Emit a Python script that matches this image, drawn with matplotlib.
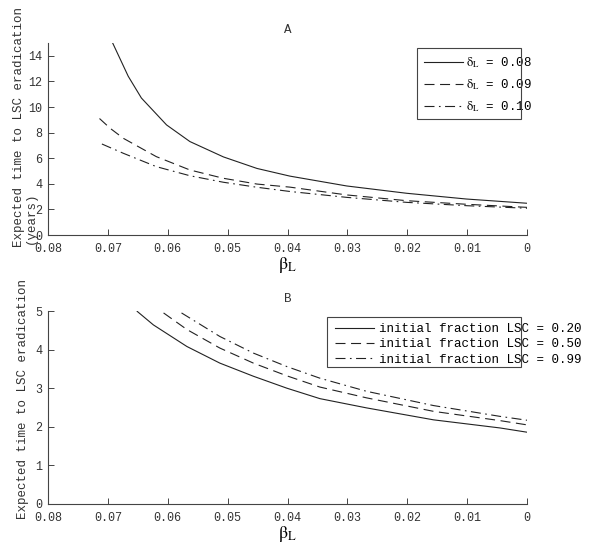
import matplotlib
matplotlib.use("Agg")
import matplotlib.pyplot as plt
from matplotlib.patches import Rectangle

# ---------------- data ----------------
xticks = [0.08, 0.07, 0.06, 0.05, 0.04, 0.03, 0.02, 0.01, 0.0]
xticklabels = ["0.08", "0.07", "0.06", "0.05", "0.04", "0.03", "0.02", "0.01", "0"]
yticks_A = [0, 2, 4, 6, 8, 10, 12, 14]
yticks_B = [0, 1, 2, 3, 4, 5]

# Panel A: delta_L = 0.08, 0.09, 0.10
beta_A_008 = [0.0692, 0.0666, 0.0644, 0.0602, 0.0563, 0.0507, 0.0451, 0.0396, 0.0301, 0.0201, 0.0101, 0.0]
T_A_008 = [15.0, 12.4, 10.7, 8.6, 7.3, 6.1, 5.2, 4.6, 3.83, 3.26, 2.81, 2.48]
beta_A_009 = [0.0714, 0.0696, 0.0674, 0.0619, 0.0563, 0.0507, 0.0451, 0.0396, 0.0301, 0.0201, 0.0101, 0.0]
T_A_009 = [9.1, 8.33, 7.55, 6.12, 5.08, 4.43, 3.98, 3.74, 3.13, 2.68, 2.40, 2.16]
beta_A_010 = [0.0710, 0.0674, 0.0619, 0.0563, 0.0507, 0.0451, 0.0396, 0.0301, 0.0201, 0.0101, 0.0]
T_A_010 = [7.11, 6.38, 5.34, 4.63, 4.12, 3.73, 3.40, 2.94, 2.55, 2.29, 2.09]
labels_A = [r"$\mathrm{\delta_{L}}$ = 0.08", r"$\mathrm{\delta_{L}}$ = 0.09", r"$\mathrm{\delta_{L}}$ = 0.10"]

# Panel B: initial fraction LSC = 0.20, 0.50, 0.99
beta_B_020 = [0.0651, 0.0624, 0.0568, 0.0513, 0.0457, 0.0401, 0.0346, 0.0268, 0.0156, 0.0045, 0.0]
T_B_020 = [4.99, 4.64, 4.08, 3.65, 3.31, 3.0, 2.73, 2.49, 2.18, 1.97, 1.86]
beta_B_050 = [0.0607, 0.0568, 0.0513, 0.0457, 0.0401, 0.0346, 0.0268, 0.0156, 0.0045, 0.0]
T_B_050 = [4.95, 4.52, 4.04, 3.65, 3.32, 3.03, 2.75, 2.40, 2.16, 2.05]
beta_B_099 = [0.0577, 0.0513, 0.0457, 0.0401, 0.0346, 0.0268, 0.0156, 0.0045, 0.0]
T_B_099 = [4.95, 4.34, 3.91, 3.56, 3.26, 2.92, 2.55, 2.27, 2.17]
labels_B = ["initial fraction LSC = 0.20", "initial fraction LSC = 0.50", "initial fraction LSC = 0.99"]

# ---------------- style ----------------
plt.rcParams["font.family"] = ["Liberation Mono", "DejaVu Sans Mono"]
plt.rcParams["mathtext.fontset"] = "stix"
W, H = 600, 550
fig = plt.figure(figsize=(6, 5.5), dpi=100)

axcol = "#444444"
lcol = "#222222"
lw = 0.8
ls_solid = "-"
ls_dash = (0, (9, 5))
ls_dashdot = (0, (9, 4, 1.5, 4))


def px_axes(x0, y0, x1, y1):
    return [x0 / W, 1 - y1 / H, (x1 - x0) / W, (y1 - y0) / H]


def style_axes(ax, yticks, ylim):
    ax.set_xlim(0.08, 0.0)
    ax.set_ylim(*ylim)
    ax.set_xticks(xticks)
    ax.set_xticklabels(xticklabels)
    ax.set_yticks(yticks)
    ax.set_yticklabels([str(v) for v in yticks])
    for s in ["top", "right"]:
        ax.spines[s].set_visible(False)
    for s in ["left", "bottom"]:
        ax.spines[s].set_color(axcol)
        ax.spines[s].set_linewidth(0.8)
    ax.tick_params(direction="in", length=4.5, width=0.7, color=axcol,
                   labelcolor="#333333", labelsize=8.5, pad=4)
    ax.tick_params(axis="x", pad=5.5)
    ax.set_xlabel(r"$\mathrm{\beta_{L}}$", fontsize=13, labelpad=0)


def frame_box(x0, y0, x1, y1):
    fig.patches.append(Rectangle((x0 / W, 1 - y1 / H), (x1 - x0) / W, (y1 - y0) / H,
                                 transform=fig.transFigure, fill=False,
                                 edgecolor=axcol, linewidth=0.8))


# ---------------- panel A ----------------
axA = fig.add_axes(px_axes(48, 43, 527, 235))
axA.plot(beta_A_008, T_A_008, color=lcol, lw=lw, ls=ls_solid, label=labels_A[0])
axA.plot(beta_A_009, T_A_009, color=lcol, lw=lw, ls=ls_dash, label=labels_A[1])
axA.plot(beta_A_010, T_A_010, color=lcol, lw=lw, ls=ls_dashdot, label=labels_A[2])
style_axes(axA, yticks_A, (0, 15))
axA.set_title("A", fontsize=9, pad=7.5, color="#333333")
legA = axA.legend(loc="upper left", bbox_to_anchor=(424 / W, 1 - 55 / H),
                  bbox_transform=fig.transFigure, frameon=False, fontsize=9,
                  handlelength=3.1, handletextpad=0.3, labelspacing=0.6,
                  borderpad=0, borderaxespad=0)
frame_box(417, 48, 521, 119)

# ---------------- panel B ----------------
axB = fig.add_axes(px_axes(48, 311, 527, 504))
axB.plot(beta_B_020, T_B_020, color=lcol, lw=lw, ls=ls_solid, label=labels_B[0])
axB.plot(beta_B_050, T_B_050, color=lcol, lw=lw, ls=ls_dash, label=labels_B[1])
axB.plot(beta_B_099, T_B_099, color=lcol, lw=lw, ls=ls_dashdot, label=labels_B[2])
style_axes(axB, yticks_B, (0, 5))
axB.set_title("B", fontsize=9, pad=6.5, color="#333333")
legB = axB.legend(loc="upper left", bbox_to_anchor=(335 / W, 1 - 323 / H),
                  bbox_transform=fig.transFigure, frameon=False, fontsize=9,
                  handlelength=3.1, handletextpad=0.4, labelspacing=0.27,
                  borderpad=0, borderaxespad=0)
frame_box(327, 317, 521, 367)

# ---------------- y labels ----------------
fig.text(19.5 / W, 1 - 127 / H, "Expected time to LSC eradication",
         rotation=90, ha="center", va="center", fontsize=9, color="#333333")
fig.text(30.5 / W, 1 - 244 / H, "(years)",
         rotation=90, ha="center", va="bottom", fontsize=9, color="#333333")
fig.text(23.5 / W, 1 - 399 / H, "Expected time to LSC eradication",
         rotation=90, ha="center", va="center", fontsize=9, color="#333333")

fig.savefig("out.png", dpi=100)
